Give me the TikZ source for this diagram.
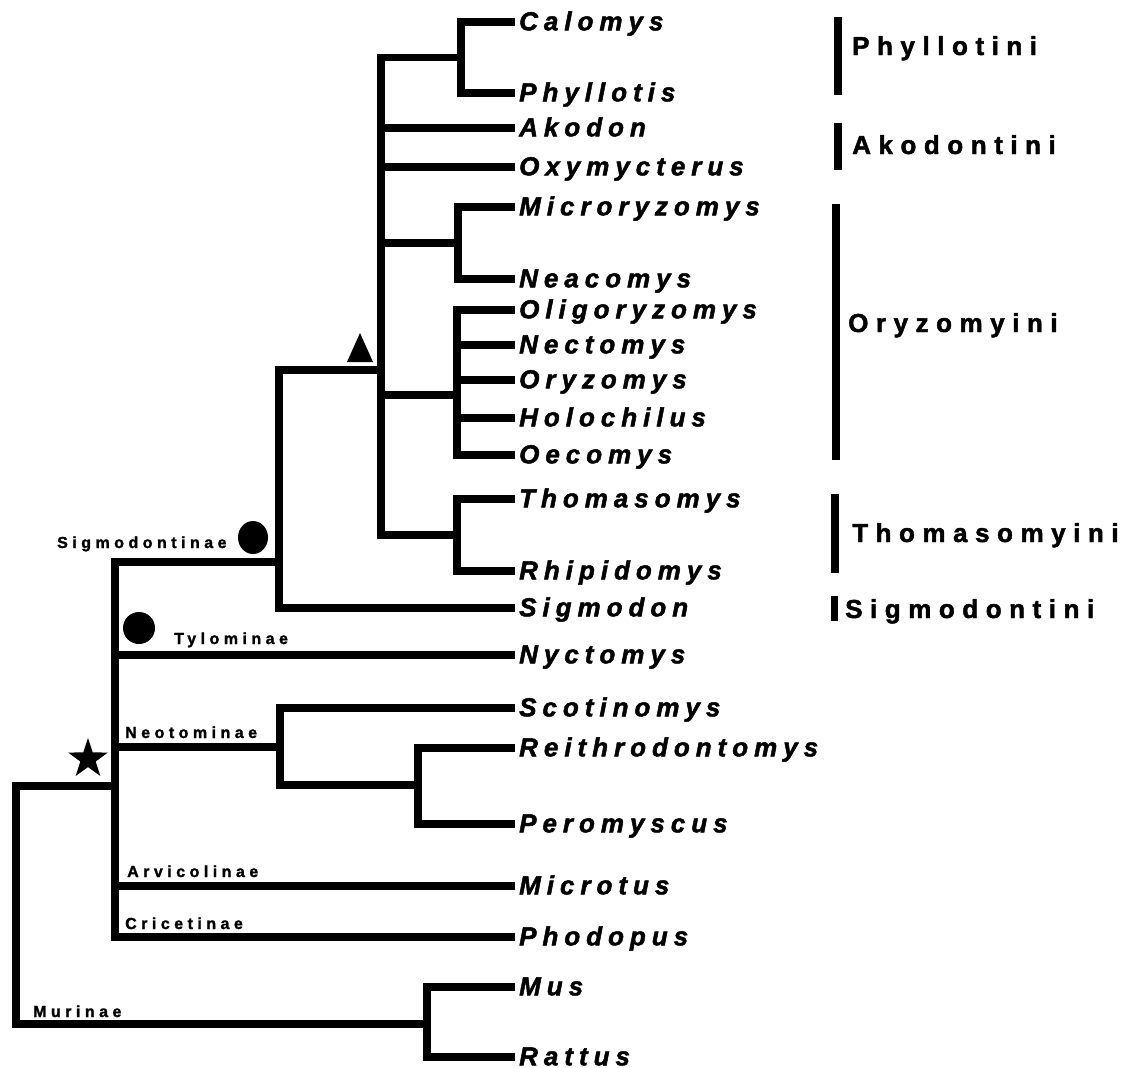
\documentclass[tikz,border=0pt]{standalone}
\usepackage{fontspec}
\setmainfont{Liberation Sans}
\newfontfamily\taxf{Liberation Sans}[LetterSpace=23, FakeBold=1.8]
\newfontfamily\tribef{Liberation Sans}[LetterSpace=29, FakeBold=1.8]
\newfontfamily\subf{Liberation Sans}[LetterSpace=28, FakeBold=1.5]
\usetikzlibrary{shapes.geometric}
\tikzset{
  br/.style={line width=7.5pt, line join=miter, line cap=butt},
  bar/.style={line width=8pt, line cap=butt},
  taxon/.style={anchor=base west, inner sep=0pt, font=\taxf\bfseries\itshape\fontsize{26}{26}\selectfont},
  tribe/.style={anchor=base west, inner sep=0pt, font=\tribef\bfseries\fontsize{26}{26}\selectfont},
  subfam/.style={anchor=base west, inner sep=0pt, font=\subf\bfseries\fontsize{16}{16}\selectfont},
  dot/.style={ellipse, fill=black, inner sep=0pt, minimum width=30pt, minimum height=33pt},
}
\begin{document}
\begin{tikzpicture}[x=1pt, y=-1pt]
\fill[white] (0,0) rectangle (1130,1068);
\useasboundingbox (0,0) rectangle (1130,1068);

% tips
\foreach \n/\y/\t in {cal/22/Calomys, phy/93/Phyllotis, ako/128/Akodon, oxy/167/Oxymycterus,
  mic/207/Microryzomys, nea/279/Neacomys, oli/310/Oligoryzomys, nec/345/Nectomys,
  ory/380/Oryzomys, hol/418/Holochilus, oec/455/Oecomys, tho/499/Thomasomys,
  rhi/571/Rhipidomys, sgm/608/Sigmodon, nyc/655/Nyctomys, sco/708/Scotinomys,
  rei/748/Reithrodontomys, per/824/Peromyscus, mct/886/Microtus, pho/937/Phodopus,
  mus/987/Mus, rat/1057/Rattus}{
  \coordinate (t\n) at (515,\y);
  \node[taxon] (\n) at (519,\y+8.3) {\t};
}

% internal nodes
\coordinate (nPhy) at (461,57.5);
\coordinate (nMN) at (458,243);
\coordinate (nOli) at (457,395);
\coordinate (nTho) at (457,535);
\coordinate (nOryz) at (381,370);
\coordinate (nSig) at (279,562);
\coordinate (nCri) at (115,786);
\coordinate (nNeo) at (280,747);
\coordinate (nRP) at (418,785);
\coordinate (nRoot) at (16,906);
\coordinate (nMur) at (427,1024);

% branches
\draw[br] (tcal) -| (nPhy) |- (tphy);
\draw[br] (tmic) -| (nMN) |- (tnea);
\draw[br] (toli) -| (nOli) |- (toec);
\foreach \n in {nec,ory,hol}{\draw[br] (t\n) -- (t\n -| nOli);}
\draw[br] (ttho) -| (nTho) |- (trhi);
\draw[br] (nPhy) -| (nOryz) |- (nTho);
\draw[br] (tako) -- (tako -| nOryz);
\draw[br] (toxy) -- (toxy -| nOryz);
\draw[br] (nMN) -- (nMN -| nOryz);
\draw[br] (nOli) -- (nOli -| nOryz);
\draw[br] (nOryz) -| (nSig) |- (tsgm);
\draw[br] (nSig) -| (nCri) |- (tpho);
\draw[br] (tnyc) -- (tnyc -| nCri);
\draw[br] (tsco) -| (nNeo) |- (nRP);
\draw[br] (trei) -| (nRP) |- (tper);
\draw[br] (nNeo) -- (nNeo -| nCri);
\draw[br] (tmct) -- (tmct -| nCri);
\draw[br] (nCri) -| (nRoot) |- (nMur);
\draw[br] (tmus) -| (nMur) |- (trat);

% subfamily labels
\node[subfam] (lsig) at (57,548) {Sigmodontinae};
\node[subfam] (ltyl) at (174,644) {Tylominae};
\node[subfam] (lneo) at (125,738) {Neotominae};
\node[subfam] (larv) at (127,877) {Arvicolinae};
\node[subfam] (lcri) at (125,929) {Cricetinae};
\node[subfam] (lmur) at (33,1017) {Murinae};

% markers
\node[dot] (dsig) at (253,537.5) {};
\node[dot, minimum width=32pt, minimum height=32pt] (dtyl) at (139,628) {};
\fill (347,362) -- (373,362) -- (360,333) -- cycle;
\node[star, star points=5, star point ratio=2.6, fill=black, inner sep=0pt, minimum size=42pt] (star) at (88,759) {};

% tribe bars and labels
\draw[bar] (838,17) -- (838,95);
\node[tribe] (tPhyl) at (852,55) {Phyllotini};
\draw[bar] (838,123) -- (838,170);
\node[tribe] (tAko) at (852,154) {Akodontini};
\draw[bar] (836,204) -- (836,460);
\node[tribe] (tOry) at (848,332) {Oryzomyini};
\draw[bar] (835,494) -- (835,573);
\node[tribe] (tTho) at (852,542) {Thomasomyini};
\draw[bar, line width=7pt] (834,596) -- (834,621);
\node[tribe] (tSig) at (845,618) {Sigmodontini};
\end{tikzpicture}
\end{document}
